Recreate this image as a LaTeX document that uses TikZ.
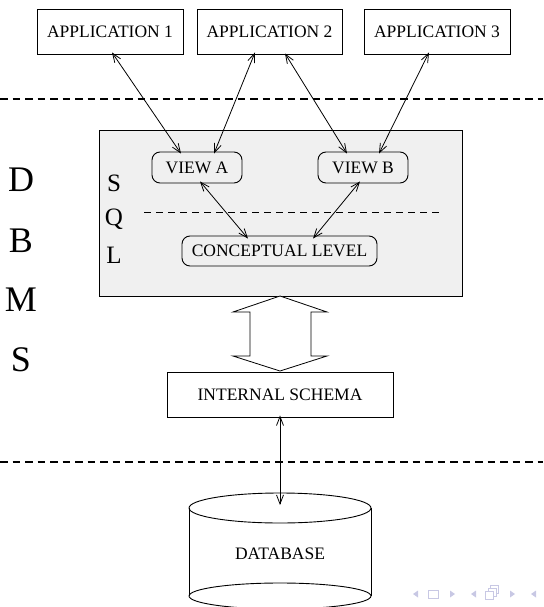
\documentclass[tikz,border=0pt]{standalone}
\usepackage{fontspec}
\setmainfont{Liberation Serif}
\usetikzlibrary{arrows.meta}
\definecolor{boxgray}{RGB}{240,240,240}
\definecolor{navcol}{RGB}{200,200,228}
\begin{document}
\begin{tikzpicture}[x=1pt,y=-1pt,
  lbl/.style={font=\fontsize{17.5}{20}\selectfont, inner sep=0pt},
  appbox/.style={lbl, draw, line width=0.9pt, minimum width=146pt, minimum height=45pt},
  viewbox/.style={lbl, draw, line width=0.9pt, rounded corners=8pt, minimum height=31pt},
  big/.style={font=\fontsize{36}{40}\selectfont, inner sep=0pt},
  mid/.style={font=\fontsize{25}{28}\selectfont, inner sep=0pt},
  link/.style={line width=0.8pt, {Straight Barb[length=9pt,width=7pt]}-{Straight Barb[length=9pt,width=7pt]}},
  sep/.style={line width=2.6pt, dash pattern=on 7.5pt off 5pt},
  thinsep/.style={line width=0.9pt, dash pattern=on 7pt off 5pt}
]
\useasboundingbox (0,0) rectangle (543,607);
% gray DBMS box
\node[draw, line width=0.9pt, fill=boxgray, minimum width=363pt, minimum height=166pt, inner sep=0pt] (dbms) at (280.5,213) {};
% applications
\node[appbox] (app1) at (110,31.5) {APPLICATION 1};
\node[appbox, minimum width=145pt] (app2) at (269.5,31.5) {APPLICATION 2};
\node[appbox] (app3) at (437,31.5) {APPLICATION 3};
% separators
\coordinate (s1l) at (0,99); \coordinate (s1r) at (543,99);
\draw[sep] (s1l) -- (s1r);
\coordinate (s2l) at (0,462); \coordinate (s2r) at (543,462);
\draw[sep] (s2l) -- (s2r);
% views
\node[viewbox, minimum width=90pt] (va) at (197,167.5) {VIEW A};
\node[viewbox, minimum width=90pt] (vb) at (363,167.5) {VIEW B};
\node[viewbox, minimum width=195pt, minimum height=30pt] (cl) at (279.5,251) {CONCEPTUAL LEVEL};
\coordinate (dl) at (144,212); \coordinate (dr) at (441,212);
\draw[thinsep] (dl) -- (dr);
% letters
\node[big] (lD) at (21,180) {D};
\node[big] (lB) at (21,241) {B};
\node[big] (lM) at (21,300) {M};
\node[big] (lS) at (21,360) {S};
\node[mid] (qS) at (114,183) {S};
\node[mid] (qQ) at (114,219) {Q};
\node[mid] (qL) at (114,255) {L};
% connectors
\draw[link] ([xshift=2pt,yshift=2pt]app1.south) -- ([xshift=-16pt,yshift=-2pt]va.north);
\draw[link] ([xshift=-14.5pt,yshift=2pt]app2.south) -- ([xshift=17pt,yshift=-2pt]va.north);
\draw[link] ([xshift=15.5pt,yshift=1pt]app2.south) -- ([xshift=-16pt,yshift=-2pt]vb.north);
\draw[link] ([xshift=-8pt,yshift=2pt]app3.south) -- ([xshift=16pt,yshift=-2pt]vb.north);
\draw[link] ([xshift=3pt,yshift=2pt]va.south) -- ([xshift=-31.5pt,yshift=-3pt]cl.north);
\draw[link] ([xshift=-3pt,yshift=2pt]vb.south) -- ([xshift=33.5pt,yshift=-3pt]cl.north);
% internal schema
\node[appbox, minimum width=226pt] (is) at (280,394.5) {INTERNAL SCHEMA};
% hollow double arrow
\draw[line width=0.8pt, fill=white] (280,296) -- (327,312) -- (311,312) -- (311,356) -- (327,356)
  -- (280,371) -- (233,356) -- (250,356) -- (250,312) -- (233,312) -- cycle;
% database cylinder
\coordinate (cyl1) at (189,508); \coordinate (cyl2) at (189,596);
\coordinate (cyr1) at (371,508); \coordinate (cyr2) at (371,596);
\draw[line width=0.9pt] (cyl1) -- (cyl2) (cyr1) -- (cyr2);
\draw[line width=0.9pt] (280,508) ellipse [x radius=91pt, y radius=15pt];
\draw[line width=0.9pt] (280,596) ellipse [x radius=91pt, y radius=13pt];
\node[lbl] (db) at (280,554) {DATABASE};
\coordinate (dbtop) at (280,505);
\draw[link] ([yshift=2pt]is.south) -- (dbtop);
% navigation symbols
\begin{scope}[navcol]
\fill (418,590.5) -- (418,597.5) -- (413,594) -- cycle;
\draw[line width=1pt] (428,590) rectangle (438,598);
\fill (450,590.5) -- (450,597.5) -- (455,594) -- cycle;
\fill (476,590.5) -- (476,597.5) -- (471,594) -- cycle;
\draw[line width=1pt] (485,591) rectangle (493,599) (488,591) -- (488,588) -- (496,588) -- (496,596) -- (493,596)
  (490,588) -- (490,585) -- (498,585) -- (498,593) -- (496,593);
\fill (510,590.5) -- (510,597.5) -- (515,594) -- cycle;
\fill (536,590.5) -- (536,597.5) -- (531,594) -- cycle;
\end{scope}
\end{tikzpicture}
\end{document}
